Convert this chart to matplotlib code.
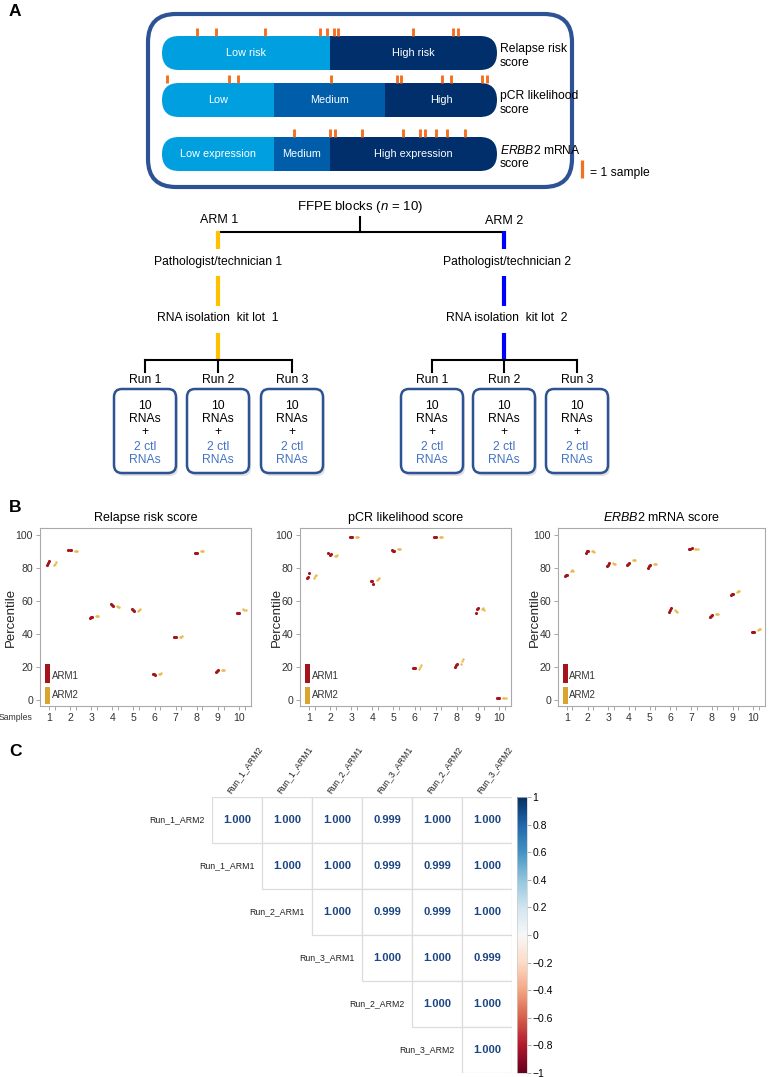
import numpy as np
import matplotlib
matplotlib.use('Agg')
import matplotlib.pyplot as plt
from matplotlib.patches import FancyBboxPatch, Rectangle
from matplotlib.cm import ScalarMappable
from matplotlib.colors import Normalize

plt.rcParams['font.family'] = ['Liberation Sans', 'DejaVu Sans']
plt.rcParams['mathtext.fontset'] = 'custom'
plt.rcParams['mathtext.rm'] = 'Liberation Sans'
plt.rcParams['mathtext.it'] = 'Liberation Sans:italic'
plt.rcParams['mathtext.bf'] = 'Liberation Sans:bold'

# ---------------- data ----------------
# panel A: score categories (edges in % of bar) and sample marks (% of bar)
relapse_cats = ['Low risk', 'High risk']
relapse_edges = [0, 50.1, 100]
pcr_cats = ['Low', 'Medium', 'High']
pcr_edges = [0, 33.4, 66.6, 100]
erbb2_cats = ['Low expression', 'Medium', 'High expression']
erbb2_edges = [0, 33.4, 50.1, 100]

relapse_marks = [10.4, 16.1, 30.7, 47.2, 49.3, 51.3, 52.5, 74.9, 86.9, 88.4]
pcr_marks = [1.5, 20.0, 22.7, 50.4, 70.1, 71.3, 83.6, 86.3, 95.5, 97.0]
erbb2_marks = [39.4, 50.1, 51.6, 59.7, 71.9, 77.0, 78.5, 81.8, 85.1, 90.4]

run_names = ['Run 1', 'Run 2', 'Run 3']

# panel B: percentile per sample, one row per run
samples = np.arange(1, 11)
relapse_arm1 = [[82, 91, 49.5, 58, 55, 16, 38, 89, 17, 53],
                [83, 91, 50, 57.5, 54.5, 15.5, 38, 89, 17.5, 53],
                [84, 91, 50.5, 57, 54, 15, 38, 89, 18, 53]]
relapse_arm2 = [[81.5, 90, 51, 57, 54, 15.5, 38, 90, 18, 55],
                [82.5, 90, 51, 56.5, 54.5, 16, 38, 90, 18, 54.5],
                [83.5, 90.5, 51, 56.5, 55, 16.5, 38.5, 90.5, 18, 54.5]]
pcr_arm1 = [[74, 89, 99, 72, 91, 19.5, 99, 20, 53, 1],
            [74.5, 88, 99, 72, 90.5, 19.5, 99, 21, 55, 1],
            [77, 88.5, 99, 70.5, 90, 19.5, 99, 22, 56, 1.2]]
pcr_arm2 = [[74, 87, 99, 73, 91.5, 19, 99, 22, 55, 1],
            [75, 87.5, 99, 73.5, 91.5, 20, 99, 23.5, 55.5, 1],
            [76, 88, 99, 74, 91.5, 21.5, 99, 25, 54.5, 1]]
erbb2_arm1 = [[75, 89, 81, 82, 80, 53.5, 91.5, 50.5, 63.5, 41],
              [75.5, 90, 82, 82.5, 81, 54.5, 91.5, 51, 64, 41],
              [76, 90.5, 83, 83, 82, 55.5, 92, 51.5, 64.5, 41]]
erbb2_arm2 = [[78, 90.5, 83, 85, 82.5, 54.5, 91.5, 52, 65.5, 42.5],
              [78.5, 90, 82.5, 85, 82.5, 54, 91.5, 52, 66, 43],
              [78, 89.5, 82.5, 85, 82.5, 53.5, 91.5, 52, 66, 43]]

# panel C: correlation matrix (upper triangle, row by row)
corr_labels = ['Run_1_ARM2', 'Run_1_ARM1', 'Run_2_ARM1', 'Run_3_ARM1', 'Run_2_ARM2', 'Run_3_ARM2']
corr_rows = [[1.000, 1.000, 1.000, 0.999, 1.000, 1.000],
             [1.000, 1.000, 0.999, 0.999, 1.000],
             [1.000, 0.999, 0.999, 1.000],
             [1.000, 1.000, 0.999],
             [1.000, 1.000],
             [1.000]]

# ---------------- colours ----------------
c_light, c_med, c_dark = '#009FDF', '#005DAA', '#002F6C'
c_orange = '#F37021'
c_frame = '#2E5394'
c_arm1, c_arm2 = '#A5141B', '#DDA833'

W, H = 770, 1077
fig = plt.figure(figsize=(7.7, 10.77), dpi=100)

# overlay axes in pixel coordinates for the schematic
ax = fig.add_axes([0, 0, 1, 1])
ax.set_xlim(0, W)
ax.set_ylim(H, 0)
ax.axis('off')

for lab, y in [('A', 12), ('B', 508), ('C', 752)]:
    ax.text(9, y, lab, fontsize=12.5, fontweight='bold', va='center', ha='left')

# ----- panel A: score bars -----
bar_x0, bar_w, bar_h = 162, 335, 34


def bx(p):
    return bar_x0 + np.asarray(p) / 100 * bar_w


ax.add_patch(FancyBboxPatch((148, 14), 424, 173, boxstyle='round,pad=0,rounding_size=28',
                            fc='none', ec=c_frame, lw=3))

bars = [(relapse_cats, relapse_edges, [c_light, c_dark], relapse_marks, 36),
        (pcr_cats, pcr_edges, [c_light, c_med, c_dark], pcr_marks, 83),
        (erbb2_cats, erbb2_edges, [c_light, c_med, c_dark], erbb2_marks, 137)]
for cats, edges, cols, marks, top in bars:
    clip = FancyBboxPatch((bar_x0, top), bar_w, bar_h, boxstyle='round,pad=0,rounding_size=17',
                          fc='none', ec='none', transform=ax.transData)
    ax.add_patch(clip)
    for k, cat in enumerate(cats):
        x0, x1 = bx(edges[k]), bx(edges[k + 1])
        r = Rectangle((x0, top), x1 - x0, bar_h, fc=cols[k], ec='none')
        ax.add_patch(r)
        r.set_clip_path(clip)
        ax.text((x0 + x1) / 2, top + bar_h / 2, cat, color='white', fontsize=7.8,
                ha='center', va='center')
    ax.vlines(bx(marks), top - 8, top, color=c_orange, lw=2.1)

ax.text(500, 49, 'Relapse risk', fontsize=8.7, va='center')
ax.text(500, 63, 'score', fontsize=8.7, va='center')
ax.text(500, 96, 'pCR likelihood', fontsize=8.7, va='center')
ax.text(500, 110, 'score', fontsize=8.7, va='center')
ax.text(500, 150, r'$\it{ERBB2}$ mRNA', fontsize=8.7, va='center')
ax.text(500, 164, 'score', fontsize=8.7, va='center')
ax.vlines(582, 160, 178, color=c_orange, lw=2.3)
ax.text(590, 173, '= 1 sample', fontsize=8.7, va='center')

# ----- panel A: sampling tree -----
ax.text(360, 207, r'FFPE blocks ($\it{n}$ = 10)', fontsize=9.5, ha='center', va='center')
ax.text(219, 220, 'ARM 1', fontsize=9, ha='center', va='center')
ax.text(504, 221, 'ARM 2', fontsize=9, ha='center', va='center')
ax.plot([360, 360], [217, 232], color='black', lw=1.5)
ax.plot([218, 504], [232, 232], color='black', lw=1.5)

for cx, col, n, tx in [(218, '#FFC000', '1', 218), (504, '#0000FF', '2', 507)]:
    for y0, y1 in [(231, 249), (276, 306), (333, 360)]:
        ax.plot([cx, cx], [y0, y1], color=col, lw=3, solid_capstyle='butt')
    ax.text(tx, 262, 'Pathologist/technician ' + n, fontsize=8.7, ha='center', va='center')
    ax.text(tx, 318, 'RNA isolation  kit lot  ' + n, fontsize=8.7, ha='center', va='center')

box_centers = [[145, 218, 292], [432, 504, 577]]
bw = 62
for centers in box_centers:
    ax.plot([centers[0], centers[-1]], [360, 360], color='black', lw=1.5)
    for k, cx in enumerate(centers):
        ax.plot([cx, cx], [360, 372], color='black', lw=1.5)
        ax.text(cx, 380, run_names[k], fontsize=8.7, ha='center', va='center')
        ax.add_patch(FancyBboxPatch((cx - bw / 2 + 2, 389 + 3), bw, 84,
                                    boxstyle='round,pad=0,rounding_size=8',
                                    fc='#bbbbbb', ec='none', alpha=0.45))
        ax.add_patch(FancyBboxPatch((cx - bw / 2, 389), bw, 84,
                                    boxstyle='round,pad=0,rounding_size=8',
                                    fc='white', ec=c_frame, lw=1.8))
        for txt, y, col in [('10', 406, 'black'), ('RNAs', 419, 'black'), ('+', 432, 'black'),
                            ('2 ctl', 447, '#4472C4'), ('RNAs', 460, '#4472C4')]:
            ax.text(cx, y, txt, fontsize=8.7, ha='center', va='center', color=col)

# ----- panel B -----
b_left = [40, 300, 558]
b_right = [251, 511, 765]
b_ylab_x = [-0.108, -0.082, -0.082]
b_titles = ['Relapse risk score', 'pCR likelihood score', r'$\it{ERBB2}$ mRNA score']
b_arm1 = [relapse_arm1, pcr_arm1, erbb2_arm1]
b_arm2 = [relapse_arm2, pcr_arm2, erbb2_arm2]
jit = [-0.06, -0.01, 0.04]
for k in range(3):
    axb = fig.add_axes([b_left[k] / W, (H - 706) / H, (b_right[k] - b_left[k]) / W, 178 / H])
    for r in range(3):
        axb.scatter(samples - 0.02 + jit[r], b_arm1[k][r], s=5, color=c_arm1, lw=0, zorder=3)
        axb.scatter(samples + 0.27 + jit[r], b_arm2[k][r], s=3, color='#E9B949', lw=0, zorder=3)
    axb.set_xlim(0.57, 10.57)
    axb.set_ylim(-3.6, 104.2)
    axb.set_xticks(samples)
    axb.set_xticks(samples + 0.27, minor=True)
    axb.set_yticks([0, 20, 40, 60, 80, 100])
    axb.tick_params(which='both', length=3, width=0.6, color='#999999', labelsize=7.6,
                    labelcolor='#333333', pad=2)
    for s in axb.spines.values():
        s.set_color('#aaaaaa')
        s.set_linewidth(0.8)
    axb.set_ylabel('Percentile', fontsize=9.5, color='#222222')
    axb.yaxis.set_label_coords(b_ylab_x[k], 0.5)
    axb.set_title(b_titles[k], fontsize=9, pad=5)
    tr = axb.get_yaxis_transform()
    axb.add_patch(Rectangle((0.022, 10.3), 0.025, 11.5, transform=tr, fc=c_arm1, ec='none'))
    axb.add_patch(Rectangle((0.022, -2.4), 0.025, 10.3, transform=tr, fc='#D9A530', ec='none'))
    axb.text(0.055, 14.5, 'ARM1', transform=tr, fontsize=7, va='center', color='#333333')
    axb.text(0.055, 3.2, 'ARM2', transform=tr, fontsize=7, va='center', color='#333333')
    if k == 0:
        axb.text(-0.035, -0.062, 'Samples', transform=axb.transAxes, fontsize=6.2,
                 ha='right', va='center', color='#333333')

# ----- panel C -----
axc = fig.add_axes([212 / W, 4 / H, 300 / W, 276 / H])
axc.set_xlim(0, 6)
axc.set_ylim(6, 0)
axc.axis('off')
n = len(corr_labels)
for i in range(n):
    for j in range(i, n):
        v = corr_rows[i][j - i]
        axc.add_patch(Rectangle((j, i), 1, 1, fc='white', ec='#dcdcdc', lw=0.9))
        axc.text(j + 0.5, i + 0.5, f'{v:.3f}', fontsize=8, fontweight='bold',
                 ha='center', va='center', color='#1b4683')
    axc.text(i - 0.14, i + 0.5, corr_labels[i], fontsize=6.3, ha='right', va='center',
             color='#222222', clip_on=False)
    axc.text(i + 0.4, -0.05, corr_labels[i], fontsize=6.3, rotation=55, ha='left',
             va='bottom', rotation_mode='anchor', color='#222222', clip_on=False)

cax = fig.add_axes([517 / W, 4 / H, 10 / W, 276 / H])
cb = fig.colorbar(ScalarMappable(norm=Normalize(-1, 1), cmap='RdBu'), cax=cax)
ticks = np.round(np.arange(-1, 1.01, 0.2), 1)
cb.set_ticks(ticks)
cb.set_ticklabels([('%g' % t).replace('-', '\u2212') if t != 0 else '0' for t in ticks])
cb.outline.set_edgecolor('#cccccc')
cb.outline.set_linewidth(0.5)
cax.tick_params(length=3, width=0.6, color='#999999', labelsize=7.5, pad=1)

fig.savefig('out.png', dpi=100, facecolor='white')
